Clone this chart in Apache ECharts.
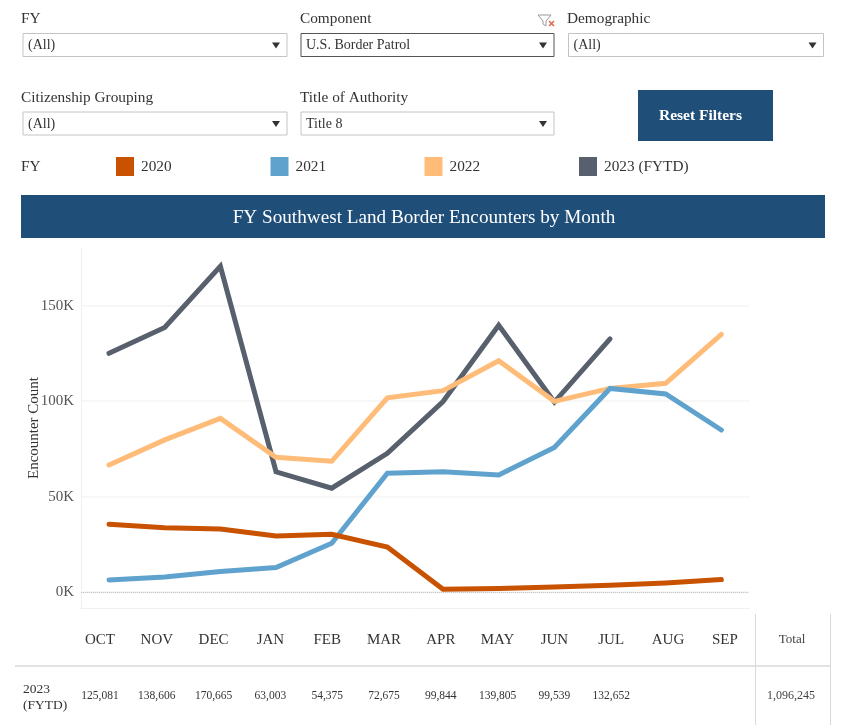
<!DOCTYPE html>
<html>
<head>
<meta charset="utf-8">
<style>
html, body { margin: 0; padding: 0; background: #fff; }
#main { width: 848px; height: 725px; }
</style>
<script src="https://cdn.jsdelivr.net/npm/echarts@6/dist/echarts.min.js"></script>
</head>
<body>
<div id="main"></div>
<script>
var months = ['OCT', 'NOV', 'DEC', 'JAN', 'FEB', 'MAR', 'APR', 'MAY', 'JUN', 'JUL', 'AUG', 'SEP'];
var fy2020 = [35500, 33700, 33000, 29300, 30200, 23600, 1400, 1800, 2600, 3500, 4700, 6500];
var fy2021 = [6300, 7900, 10700, 12800, 25500, 62200, 63000, 61300, 75800, 106700, 103800, 84900];
var fy2022 = [66600, 79700, 91000, 70600, 68500, 101800, 105500, 121200, 99900, 106700, 109400, 135000];
var fy2023 = [125081, 138606, 170665, 63003, 54375, 72675, 99844, 139805, 99539, 132652, null, null];
var yTicks = [0, 50000, 100000, 150000];
var fyTotal = '1,096,245';

var serif = '"Liberation Serif", "Times New Roman", serif';
var navy = '#1f4e79';
var colors = { '2020': '#c85200', '2021': '#5fa2ce', '2022': '#ffbc79', '2023 (FYTD)': '#57606c' };

var myChart = echarts.init(document.getElementById('main'));

// 筛选框
function dropdown(label, value, x, y, w, labelX, labelY, dark) {
    return [{
        type: 'text', left: labelX, top: labelY,
        style: { text: label, font: '15.3px ' + serif, fill: '#333' }
    }, {
        type: 'rect', shape: { x: x, y: y, width: w, height: 23 },
        style: { fill: '#fff', stroke: dark ? '#555' : '#c4c4c4', lineWidth: 1 }
    }, {
        type: 'text', left: x + 5, top: y + 5,
        style: { text: value, font: '14px ' + serif, fill: '#333' }
    }, {
        type: 'polygon',
        shape: { points: [[x + w - 15, y + 9], [x + w - 7, y + 9], [x + w - 11, y + 15]] },
        style: { fill: '#333' }
    }];
}

var graphics = [].concat(
    dropdown('FY', '(All)', 23, 33.5, 264, 21, 11),
    dropdown('Component', 'U.S. Border Patrol', 301, 33.5, 253, 300, 11, true),
    dropdown('Demographic', '(All)', 568.5, 33.5, 255, 567, 11),
    dropdown('Citizenship Grouping', '(All)', 23, 112, 264, 21, 90),
    dropdown('Title of Authority', 'Title 8', 301, 112, 253, 300, 90)
);

graphics.push(
    // 清除筛选图标
    { type: 'polygon', shape: { points: [[538, 15], [551, 15], [546, 21], [546, 26], [543, 24], [543, 21]] },
      style: { fill: '#fff', stroke: '#999', lineWidth: 1 } },
    { type: 'line', shape: { x1: 549, y1: 21, x2: 554, y2: 26 }, style: { stroke: '#e0684a', lineWidth: 1.5 } },
    { type: 'line', shape: { x1: 554, y1: 21, x2: 549, y2: 26 }, style: { stroke: '#e0684a', lineWidth: 1.5 } },
    // 按钮
    { type: 'rect', shape: { x: 638, y: 90, width: 135, height: 51 }, style: { fill: navy } },
    { type: 'text', x: 700.5, y: 115.5,
      style: { text: 'Reset Filters', font: 'bold 15.5px ' + serif, fill: '#fff', align: 'center', verticalAlign: 'middle' } },
    { type: 'text', left: 21, top: 159, style: { text: 'FY', font: '15.3px ' + serif, fill: '#333' } },
    // 标题背景
    { type: 'rect', shape: { x: 21, y: 195, width: 804, height: 43 }, style: { fill: navy } },
    // 表格线
    { type: 'line', shape: { x1: 15, y1: 666, x2: 830, y2: 666 }, style: { stroke: '#d9d9d9', lineWidth: 1.5 } },
    { type: 'line', shape: { x1: 755.5, y1: 614, x2: 755.5, y2: 725 }, style: { stroke: '#d9d9d9', lineWidth: 1 } },
    { type: 'line', shape: { x1: 830.5, y1: 614, x2: 830.5, y2: 725 }, style: { stroke: '#d9d9d9', lineWidth: 1 } },
    { type: 'text', x: 792, y: 640,
      style: { text: 'Total', font: '13px ' + serif, fill: '#444', align: 'center', verticalAlign: 'middle' } },
    { type: 'text', left: 23, top: 681,
      style: { text: '2023\n(FYTD)', font: '13.5px ' + serif, lineHeight: 16, fill: '#333' } },
    { type: 'text', x: 791, y: 696,
      style: { text: fyTotal, font: '12px ' + serif, fill: '#444', align: 'center', verticalAlign: 'middle' } }
);

function legendAt(name, left) {
    return {
        data: [name], left: left, top: 152,
        icon: 'rect', itemWidth: 18, itemHeight: 19,
        textStyle: { fontFamily: serif, fontSize: 15.3, color: '#333', padding: [0, 0, 0, 2] }
    };
}

function lineSeries(name, values, extra) {
    var s = {
        name: name,
        type: 'line',
        data: values,
        symbol: 'none',
        connectNulls: false,
        itemStyle: { color: colors[name] },
        lineStyle: { color: colors[name], width: 5, cap: 'round', join: 'miter' }
    };
    return Object.assign(s, extra || {});
}

var option = {
    animation: false,
    backgroundColor: '#fff',
    title: {
        text: 'FY Southwest Land Border Encounters by Month',
        left: 'center',
        top: 208,
        padding: 0,
        textStyle: { fontFamily: serif, fontSize: 19.2, fontWeight: 'normal', color: '#fff' }
    },
    legend: [legendAt('2020', 111), legendAt('2021', 265.5), legendAt('2022', 419.5), legendAt('2023 (FYTD)', 574)],
    grid: [
        { left: 81.2, width: 668, top: 248, height: 360 },
        // 月份表头，列宽和上面的图不一样
        { left: 71.6, width: 681.6, top: 625, height: 1 }
    ],
    xAxis: [{
        type: 'category',
        data: months,
        axisLine: { onZero: false, lineStyle: { color: '#f0f0f0', width: 1 } },
        axisTick: { show: false },
        axisLabel: { show: false }
    }, {
        type: 'category',
        gridIndex: 1,
        data: months,
        axisLine: { show: false },
        axisTick: { show: false },
        axisLabel: { fontFamily: serif, fontSize: 15, color: '#333', margin: 7 }
    }],
    yAxis: [{
        type: 'value',
        min: -8400,
        max: 180300,
        name: 'Encounter Count',
        nameLocation: 'middle',
        nameGap: 40,
        nameMoveOverlap: false,
        nameTextStyle: { fontFamily: serif, fontSize: 15, color: '#333' },
        axisLine: { show: true, lineStyle: { color: '#f0f0f0', width: 1 } },
        axisTick: { show: false, customValues: yTicks },
        axisLabel: {
            customValues: yTicks,
            fontFamily: serif, fontSize: 15, color: '#555', margin: 7,
            formatter: function (v) { return (v / 1000) + 'K'; }
        },
        splitLine: { show: true, lineStyle: { color: '#f5f5f5', width: 1.5 } }
    }, {
        type: 'value',
        gridIndex: 1,
        show: false
    }],
    graphic: graphics,
    series: [
        lineSeries('2023 (FYTD)', fy2023),
        lineSeries('2022', fy2022),
        lineSeries('2021', fy2021),
        lineSeries('2020', fy2020, {
            markLine: {
                silent: true, symbol: 'none', label: { show: false }, z: 1,
                lineStyle: { color: '#bbb', type: 'dotted', width: 1 },
                data: [{ yAxis: 0 }]
            }
        })
    ]
};
myChart.setOption(option);

// 表格数值，对齐到表头的月份
var cells = [];
fy2023.forEach(function (v, i) {
    if (v === null) return;
    var px = myChart.convertToPixel({ xAxisIndex: 1 }, i);
    cells.push({
        type: 'text', x: px, y: 696,
        style: { text: v.toLocaleString('en-US'), font: '11.5px ' + serif, fill: '#333', align: 'center', verticalAlign: 'middle' }
    });
});
myChart.setOption({ graphic: graphics.concat(cells) });
</script>
</body>
</html>
